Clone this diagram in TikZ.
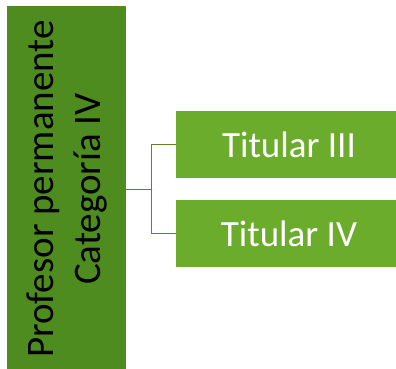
\documentclass[tikz,border=0pt]{standalone}
\usepackage{fontspec}
\setmainfont{Carlito}
\definecolor{catgreen}{RGB}{78,140,32}
\definecolor{titgreen}{RGB}{108,172,44}
\definecolor{linegreen}{RGB}{96,130,40}
\tikzset{
  catbox/.style={fill=catgreen,draw=none,rotate=90,minimum width=366pt,
    minimum height=119pt,inner sep=0pt,align=center,
    font=\fontsize{39}{47}\selectfont,text=black},
  titbox/.style={fill=titgreen,draw=none,minimum width=226pt,
    minimum height=67pt,inner sep=0pt,
    font=\fontsize{37}{45}\selectfont,text=white},
  branch/.style={draw=linegreen,line width=0.9pt}
}
\begin{document}
\begin{tikzpicture}[x=1pt,y=-1pt]
  \useasboundingbox (0,0) rectangle (396,369);
  \node[catbox] (cat) at (66.5,189) {Profesor permanente\\Categoría IV};
  \node[titbox] (t3) at (289,144.5) {Titular III};
  \node[titbox] (t4) at (289,233.5) {Titular IV};
  \coordinate (fork) at (151,189);
  \draw[branch] (cat.south |- fork) -- (fork);
  \draw[branch] (fork) |- (t3.west);
  \draw[branch] (fork) |- (t4.west);
\end{tikzpicture}
\end{document}
